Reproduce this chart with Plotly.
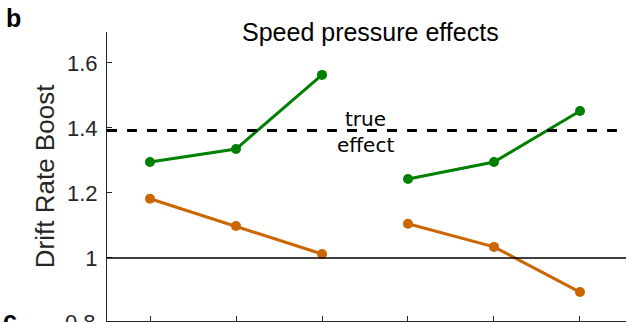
import plotly.graph_objects as go

x_left = [1, 2, 3]
x_right = [4, 5, 6]
green_left = [1.295, 1.335, 1.563]
green_right = [1.243, 1.295, 1.452]
orange_left = [1.182, 1.098, 1.012]
orange_right = [1.105, 1.034, 0.895]
true_effect = 1.392
baseline = 1.0
y_ticks = [1.0, 1.2, 1.4, 1.6]
y_tick_labels = ["1", "1.2", "1.4", "1.6"]
cut_tick = 0.8
cut_tick_label = "0.8"
y_range = [0.806, 1.695]

GREEN = "#008000"
ORANGE = "#CC6600"
SANS = "Liberation Sans"
DJ = "DejaVu Sans"
AX = "#262626"

fig = go.Figure()
for xs, ys, c in [(x_left, green_left, GREEN), (x_right, green_right, GREEN),
                  (x_left, orange_left, ORANGE), (x_right, orange_right, ORANGE)]:
    fig.add_trace(go.Scatter(x=xs, y=ys, mode="lines+markers",
                             line=dict(color=c, width=3),
                             marker=dict(color=c, size=10),
                             showlegend=False, cliponaxis=False))

fig.add_shape(type="line", xref="paper", x0=0, x1=1, yref="y", y0=true_effect, y1=true_effect,
              line=dict(color="black", width=3, dash="10px,10px"))
fig.add_shape(type="line", xref="paper", x0=0, x1=1, yref="y", y0=baseline, y1=baseline,
              line=dict(color="black", width=1.5))

cut_tick_paper = (cut_tick - y_range[0]) / (y_range[1] - y_range[0])

fig.update_layout(
    width=629, height=322,
    margin=dict(l=107, r=3, t=32, b=1),
    paper_bgcolor="white", plot_bgcolor="white",
    font=dict(family=SANS, color=AX),
    xaxis=dict(range=[0.5, 6.535], tickvals=[1, 2, 3, 4, 5, 6], ticktext=[""] * 6,
               ticks="inside", ticklen=5, tickcolor=AX, showline=True,
               linecolor=AX, linewidth=1, showgrid=False, zeroline=False),
    yaxis=dict(range=y_range, tickvals=y_ticks, ticktext=y_tick_labels,
               ticks="inside", ticklen=5, tickcolor=AX, showline=True,
               linecolor=AX, linewidth=1, showgrid=False, zeroline=False,
               tickfont=dict(size=22, color=AX, family=SANS), ticklabelstandoff=4),
    annotations=[
        dict(text="Speed pressure effects", xref="paper", yref="paper", x=0.507, y=1.0,
             xanchor="center", yanchor="middle", showarrow=False,
             font=dict(size=25, color="black", family=SANS)),
        dict(text="Drift Rate Boost", xref="paper", yref="paper", x=-0.119, y=0.502,
             xanchor="center", yanchor="middle", textangle=-90, showarrow=False,
             font=dict(size=26, color=AX, family=SANS)),
        dict(text="true", xref="x", yref="y", x=3.5, y=true_effect, yshift=12,
             xanchor="center", yanchor="middle", showarrow=False,
             font=dict(size=20, color="black", family=DJ)),
        dict(text="effect", xref="x", yref="y", x=3.5, y=true_effect, yshift=-14,
             xanchor="center", yanchor="middle", showarrow=False,
             font=dict(size=20, color="black", family=DJ)),
        dict(text=cut_tick_label, xref="paper", yref="paper", x=0, y=cut_tick_paper,
             xshift=-9, xanchor="right", yanchor="middle", showarrow=False,
             font=dict(size=22, color=AX, family=SANS)),
        dict(text="<b>b</b>", xref="paper", yref="paper", x=-0.18, y=1.05,
             xanchor="center", yanchor="middle", showarrow=False,
             font=dict(size=25, color="black", family=SANS)),
        dict(text="<b>c</b>", xref="paper", yref="paper", x=-0.186, y=0.004,
             xanchor="center", yanchor="middle", showarrow=False,
             font=dict(size=25, color="black", family=SANS)),
    ],
)

fig.write_html("out.html")
